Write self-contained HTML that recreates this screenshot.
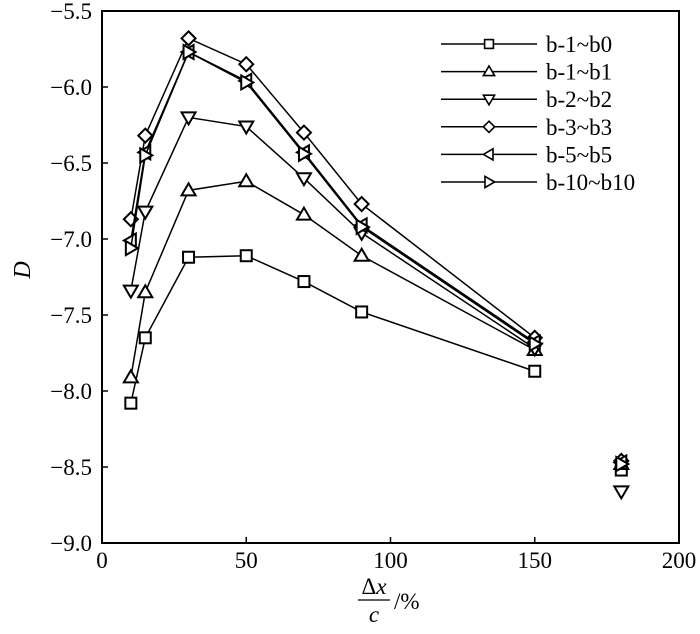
<!DOCTYPE html>
<html><head><meta charset="utf-8"><style>
body{margin:0;background:#fff}
svg text{font-family:"Liberation Serif",serif;fill:#000}
</style></head><body>
<svg id="chart" width="700" height="629" xmlns="http://www.w3.org/2000/svg">
<g id="axes"></g><g id="series"></g><g id="legend"></g>
</svg>
<script>
const xVals=[10,15,30,50,70,90,150];
const sB0=[-8.08,-7.65,-7.12,-7.11,-7.28,-7.48,-7.87];
const sB1=[-7.91,-7.35,-6.68,-6.62,-6.84,-7.11,-7.73];
const sB2=[-7.34,-6.82,-6.20,-6.26,-6.60,-6.96,-7.72];
const sB3=[-6.87,-6.32,-5.68,-5.85,-6.30,-6.77,-7.65];
const sB5=[-7.01,-6.43,-5.77,-5.96,-6.43,-6.91,-7.68];
const sB10=[-7.06,-6.45,-5.77,-5.97,-6.44,-6.92,-7.69];
const xOutlier=180;
const outliers=[-8.52,-8.48,-8.66,-8.46,-8.47,-8.48];
const names=["b-1~b0","b-1~b1","b-2~b2","b-3~b3","b-5~b5","b-10~b10"];
const markers=["square","up","down","diamond","left","right"];
const yTicks=[-5.5,-6.0,-6.5,-7.0,-7.5,-8.0,-8.5,-9.0];
const xTicks=[0,50,100,150,200];
const NS="http://www.w3.org/2000/svg";
const L=102,R=679,T=11,B=543;
const sx=v=>L+(v-0)/(200-0)*(R-L);
const sy=v=>T+(-5.5-v)/(3.5)*(B-T);
function mk(tag,at,p){const e=document.createElementNS(NS,tag);for(const k in at)e.setAttribute(k,at[k]);p.appendChild(e);return e;}
const ax=document.getElementById('axes');
const frame=mk('rect',{x:L,y:T,width:R-L,height:B-T,fill:'none',stroke:'#000','stroke-width':2},ax);


yTicks.forEach(v=>{
 const y=sy(v);
 const t=mk('line',{x1:L,x2:L+6,y1:y,y2:y,stroke:'#000','stroke-width':1.5},ax);
 
 
 const tx=mk('text',{x:L-10,y:y+8,'text-anchor':'end','font-size':23},ax);
 tx.textContent=(v<0?'\u2212':'')+Math.abs(v).toFixed(1);
 
 
});
xTicks.forEach(v=>{
 const x=sx(v);
 const t=mk('line',{x1:x,x2:x,y1:B,y2:B-6,stroke:'#000','stroke-width':1.5},ax);
 
 
 const tx=mk('text',{x:x,y:B+25,'text-anchor':'middle','font-size':23},ax);
 tx.textContent=v;
 
 
});
const yt=mk('text',{x:22,y:278,'text-anchor':'middle','font-size':24,'font-style':'italic',transform:'rotate(-90 22 270)'},ax);
yt.textContent='D';


const xg=mk('g',{},ax);


const t1=mk('text',{x:374,y:594,'text-anchor':'middle','font-size':23},xg);t1.innerHTML='\u0394<tspan font-style="italic">x</tspan>';
mk('line',{x1:358,x2:390,y1:600,y2:600,stroke:'#000','stroke-width':1.3},xg);
const t2=mk('text',{x:374,y:622,'text-anchor':'middle','font-size':23,'font-style':'italic'},xg);t2.textContent='c';
const t3=mk('text',{x:394,y:609,'font-size':23},xg);t3.textContent='/%';
function marker(type,x,y,p){
 const s=5.5;let e;
 if(type==='square')e=mk('rect',{x:x-s,y:y-s,width:2*s,height:2*s},p);
 else{let pts;
  if(type==='up')pts=[[x,y-7],[x-7,y+5],[x+7,y+5]];
  if(type==='down')pts=[[x,y+7],[x-7,y-5],[x+7,y-5]];
  if(type==='diamond')pts=[[x,y-7],[x+7,y],[x,y+7],[x-7,y]];
  if(type==='left')pts=[[x-7,y],[x+5,y-7],[x+5,y+7]];
  if(type==='right')pts=[[x+7,y],[x-5,y-7],[x-5,y+7]];
  e=mk('polygon',{points:pts.map(q=>q.join(',')).join(' ')},p);}
 e.setAttribute('fill','#fff');e.setAttribute('stroke','#000');e.setAttribute('stroke-width',2);
 return e;
}
const all=[sB0,sB1,sB2,sB3,sB5,sB10];
const sg=document.getElementById('series');
all.forEach((s,i)=>{
 const g=mk('g',{},sg);
 
 
 const ln=mk('polyline',{points:s.map((v,j)=>sx(xVals[j])+','+sy(v)).join(' '),fill:'none',stroke:'#000','stroke-width':1.5},g);
 
 
 s.forEach((v,j)=>{const m=marker(markers[i],sx(xVals[j]),sy(v),g);
  
  });
 const o=marker(markers[i],sx(xOutlier),sy(outliers[i]),g);
 
 
});
const lg=document.getElementById('legend');
names.forEach((n,i)=>{
 const y=44+i*27.6;
 const g=mk('g',{},lg);
 
 
 mk('line',{x1:441,x2:537,y1:y,y2:y,stroke:'#000','stroke-width':1.5},g);
 const m=marker(markers[i],489,y,g);m.setAttribute('transform','translate(489 '+y+') scale(0.8) translate(-489 '+(-y)+')');
 const t=mk('text',{x:546,y:y+8,'font-size':23},g);t.textContent=n;
});
</script>
</body></html>
